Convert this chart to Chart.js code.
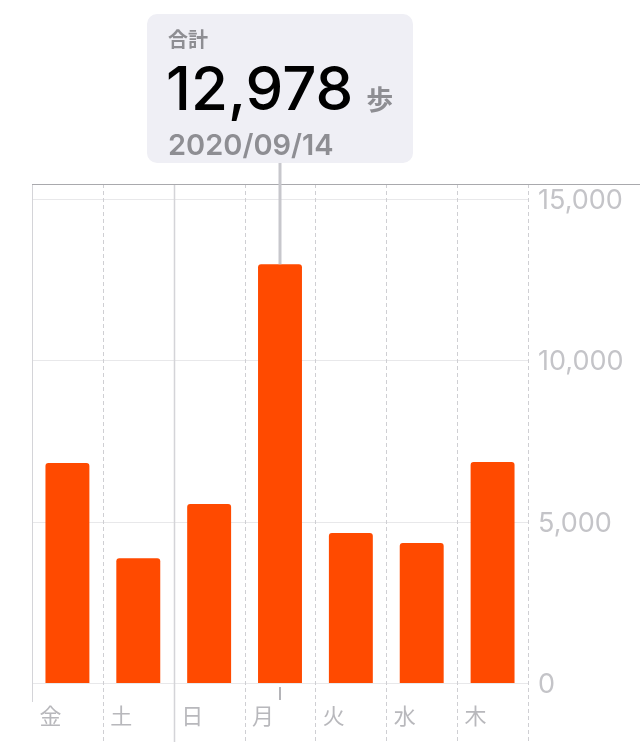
<!DOCTYPE html>
<html lang="ja">
<head>
<meta charset="utf-8">
<title>歩数</title>
<script src="https://cdn.jsdelivr.net/npm/chart.js@4/dist/chart.umd.min.js"></script>
<style>
  html, body { margin: 0; padding: 0; background: #fff; }
  canvas { display: block; }
</style>
</head>
<body>
<canvas id="steps-chart" width="640" height="742"></canvas>
<script>
// Daily steps, Friday through Thursday
const days = ['金', '土', '日', '月', '火', '水', '木'];
const steps = [6820, 3870, 5550, 12978, 4650, 4340, 6850];
const yTicks = [0, 5000, 10000, 15000];

const selectedIndex = 3;          // 月
const selectedDate = '2020/09/14';
const weekStartIndex = 2;         // 日 gets a solid separator
const totalLabel = '合計';
const unitLabel = '歩';

const barColor = '#ff4a00';
const grayText = '#8e8e93';
const FONT = 'Inter, "Noto Sans CJK JP", "Liberation Sans", sans-serif';

// grid lines drawn behind the bars
const gridPlugin = {
    id: 'stepsGrid',
    beforeDatasetsDraw(chart) {
        const { ctx, chartArea, scales } = chart;
        const x = scales.x;
        const y = scales.y;
        const half = (x.getPixelForValue(1) - x.getPixelForValue(0)) / 2;
        const topLine = 184;

        ctx.save();
        ctx.lineWidth = 1;

        // horizontal lines
        ctx.strokeStyle = '#e8e8ea';
        yTicks.forEach(v => {
            const py = Math.round(y.getPixelForValue(v)) + 0.5;
            ctx.beginPath();
            ctx.moveTo(chartArea.left, py);
            ctx.lineTo(chartArea.right, py);
            ctx.stroke();
        });

        // vertical separators between days
        for (let i = 0; i <= days.length; i++) {
            const px = Math.round(x.getPixelForValue(i) - half) + 0.5;
            ctx.beginPath();
            if (i === 0) {
                ctx.setLineDash([]);
                ctx.strokeStyle = '#d4d4d8';
                ctx.moveTo(px, topLine);
                ctx.lineTo(px, 702);
            } else if (i === weekStartIndex) {
                ctx.setLineDash([]);
                ctx.strokeStyle = '#d4d4d8';
                ctx.lineWidth = 1.5;
                ctx.moveTo(px, topLine);
                ctx.lineTo(px, chart.height);
            } else {
                ctx.setLineDash([4, 3]);
                ctx.strokeStyle = '#cfcfd3';
                ctx.lineWidth = 1;
                ctx.moveTo(px, topLine);
                ctx.lineTo(px, chart.height);
            }
            ctx.stroke();
            ctx.lineWidth = 1;
        }
        ctx.setLineDash([]);

        // top border
        ctx.strokeStyle = '#a9a9ad';
        ctx.beginPath();
        ctx.moveTo(chartArea.left, topLine + 0.5);
        ctx.lineTo(chart.width, topLine + 0.5);
        ctx.stroke();
        ctx.restore();
    }
};

// selection callout above the chosen bar
const calloutPlugin = {
    id: 'stepsCallout',
    afterDatasetsDraw(chart) {
        const { ctx, scales } = chart;
        const bar = chart.getDatasetMeta(0).data[selectedIndex];
        const cx = bar.x;
        const boxW = 266, boxH = 149, boxTop = 14;
        const boxLeft = cx - boxW / 2;

        ctx.save();
        // connector line
        ctx.strokeStyle = '#c7c7cc';
        ctx.lineWidth = 3;
        ctx.beginPath();
        ctx.moveTo(cx, boxTop + boxH);
        ctx.lineTo(cx, bar.y);
        ctx.stroke();

        // small mark under the axis
        ctx.strokeStyle = '#b4b4b8';
        ctx.lineWidth = 2;
        ctx.beginPath();
        ctx.moveTo(cx, scales.y.getPixelForValue(0) + 4);
        ctx.lineTo(cx, scales.y.getPixelForValue(0) + 17);
        ctx.stroke();

        // box
        ctx.fillStyle = '#efeff5';
        ctx.beginPath();
        ctx.roundRect(boxLeft, boxTop, boxW, boxH, 10);
        ctx.fill();

        const tx = boxLeft + 21;
        ctx.textBaseline = 'alphabetic';
        ctx.textAlign = 'left';

        ctx.fillStyle = grayText;
        ctx.font = `600 20px ${FONT}`;
        ctx.fillText(totalLabel, tx, 47);

        const value = steps[selectedIndex].toLocaleString('en-US');
        ctx.fillStyle = '#000';
        ctx.font = `500 60px ${FONT}`;
        ctx.fillText(value, tx - 2, 110);
        const vw = ctx.measureText(value).width;

        ctx.fillStyle = grayText;
        ctx.font = `700 27px ${FONT}`;
        ctx.fillText(unitLabel, tx - 2 + vw + 13, 110);

        ctx.font = `600 29px ${FONT}`;
        ctx.fillText(selectedDate, tx, 155);
        ctx.restore();
    }
};

const chart = new Chart(document.getElementById('steps-chart'), {
    type: 'bar',
    data: {
        labels: days,
        datasets: [{
            data: steps,
            backgroundColor: barColor,
            borderRadius: 3,
            borderSkipped: 'bottom',
            barPercentage: 0.62,
            categoryPercentage: 1
        }]
    },
    options: {
        responsive: false,
        animation: false,
        devicePixelRatio: 1,
        layout: { padding: { top: 199, left: 32, right: 0, bottom: 0 } },
        plugins: {
            legend: { display: false },
            tooltip: { enabled: false }
        },
        scales: {
            x: {
                grid: { display: false, drawTicks: false },
                border: { display: false },
                afterFit: scale => { scale.height = 59; },
                ticks: {
                    align: 'start',
                    labelOffset: -28,
                    padding: 21,
                    color: '#b8b8bc',
                    font: { family: FONT, size: 22 }
                }
            },
            y: {
                position: 'right',
                min: 0,
                max: 15000,
                afterFit: scale => { scale.width = 112; },
                afterBuildTicks: scale => {
                    scale.ticks = yTicks.map(v => ({ value: v }));
                },
                grid: { display: false, drawTicks: false },
                border: { display: false },
                ticks: {
                    padding: 10,
                    labelOffset: 2,
                    color: '#c4c4c8',
                    font: { family: FONT, size: 27 },
                    callback: v => v.toLocaleString('en-US')
                }
            }
        }
    },
    plugins: [gridPlugin, calloutPlugin]
});
</script>
</body>
</html>
